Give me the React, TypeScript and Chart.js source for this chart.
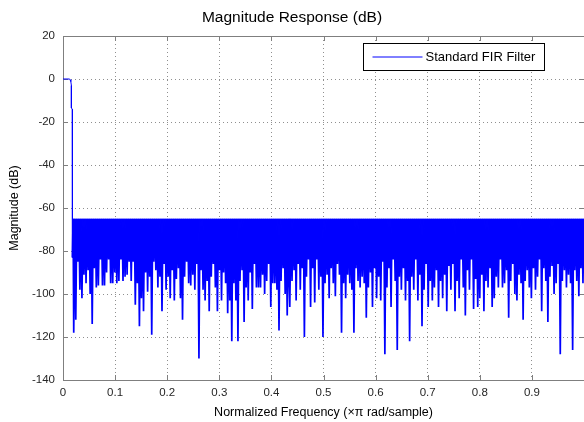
import React, { useEffect, useRef } from "react";
import { Chart, registerables } from "chart.js";

Chart.register(...registerables);

const TITLE = "Magnitude Response (dB)";
const X_LABEL = "Normalized Frequency (\u00d7\u03c0 rad/sample)";
const Y_LABEL = "Magnitude (dB)";
const SERIES_NAME = "Standard FIR Filter";

const X_GRID = [0, 0.1, 0.2, 0.3, 0.4, 0.5, 0.6, 0.7, 0.8, 0.9, 1];
const X_TICK_LABELS = ["0", "0.1", "0.2", "0.3", "0.4", "0.5", "0.6", "0.7", "0.8", "0.9", ""];
const Y_MIN = -140;
const Y_MAX = 20;
const Y_STEP = 20;

// passband and transition
const PASS_FREQ = [0, 0.012, 0.0135, 0.015, 0.0161, 0.0161, 0.0178, 0.0181];
const PASS_DB = [0, 0, -0.3, -1.2, -3, -13.5, -14, -83];

// stopband: equiripple peaks and the lobe minima
const STOP_PEAK_DB = -65;
const STOP_A_RANGE = [0.0206, 0.4343];
const STOP_A_DIPS = [
  -118, -112, -85, -98, -102, -91, -95, -89, -100, -114,
  -88, -97, -96, -84, -96, -96, -90, -84, -95, -95,
  -90, -95, -94, -84, -94, -92, -91, -85, -94, -85,
  -105, -95, -115, -102, -108, -90, -99, -92, -119, -85,
  -89, -97, -92, -108, -86, -98, -92, -102, -89, -103,
  -93, -88, -102, -112, -92, -85, -95, -96, -91, -98,
  -86, -130, -89, -98, -103, -94, -108, -92, -86, -97,
  -108, -89, -103, -90, -95, -109, -103, -122, -95, -103,
  -122, -94, -89, -113, -97, -103, -90, -107, -86, -97,
  -97, -97, -91, -100, -94, -86, -106, -95, -95, -98,
  -117, -94, -88, -100, -110, -97,
];
const STOP_B_RANGE = [0.4356, 0.998];
const STOP_B_DIPS = [
  -106, -94, -89, -103, -86, -98, -88, -120, -92, -84,
  -106, -88, -104, -84, -98, -92, -120, -95, -91, -102,
  -88, -95, -101, -86, -91, -118, -95, -102, -91, -95,
  -98, -118, -88, -94, -97, -92, -95, -111, -97, -90,
  -106, -88, -102, -92, -103, -85, -128, -97, -88, -106,
  -84, -94, -126, -92, -98, -88, -103, -94, -122, -92,
  -98, -84, -103, -91, -115, -98, -86, -106, -94, -103,
  -97, -89, -106, -94, -102, -91, -108, -87, -98, -86,
  -108, -94, -102, -84, -97, -110, -89, -98, -84, -107,
  -93, -106, -102, -91, -108, -94, -97, -88, -106, -102,
  -92, -97, -84, -97, -95, -89, -111, -94, -86, -100,
  -103, -91, -95, -112, -94, -89, -97, -102, -88, -98,
  -92, -84, -108, -88, -94, -113, -92, -87, -100, -95,
  -86, -128, -94, -89, -97, -91, -95, -126, -89, -94,
  -101, -88, -95,
];

const LINE_COLOR = "#0000ff";
const AXIS_COLOR = "#7f7f7f";
const GRID_COLOR = "#8f8f8f";
const TEXT_COLOR = "#262626";
const FAMILY = "'Liberation Sans', Arial, Helvetica, sans-serif";

function passPoints() {
  return PASS_FREQ.map((f, i) => ({ x: f, y: PASS_DB[i] }));
}

function stopPoints() {
  const lastF = PASS_FREQ[PASS_FREQ.length - 1];
  const pts: { x: number; y: number }[] = [{ x: lastF, y: PASS_DB[PASS_DB.length - 1] }];
  const dips: { x: number; y: number }[] = [];
  const segs: [number[], number[]][] = [
    [STOP_A_RANGE, STOP_A_DIPS],
    [STOP_B_RANGE, STOP_B_DIPS],
  ];
  segs.forEach(([r, d]) => {
    d.forEach((v, i) => dips.push({ x: r[0] + ((r[1] - r[0]) * i) / (d.length - 1), y: v }));
  });
  let prev = lastF;
  dips.forEach((d) => {
    pts.push({ x: (prev + d.x) / 2, y: STOP_PEAK_DB });
    pts.push(d);
    prev = d.x;
  });
  pts.push({ x: 1, y: STOP_PEAK_DB });
  return pts;
}

export default function App() {
  const ref = useRef<HTMLCanvasElement>(null);
  useEffect(() => {
    const sz = { title: 15.5, tick: 11.5, axis: 12.5, legend: 13 };

    const boxPlugin = {
      id: "matlabBox",
      beforeDatasetsDraw(chart: any) {
        const { ctx, chartArea } = chart;
        const { left, right, top, bottom } = chartArea;
        const xs = chart.scales.x;
        const ys = chart.scales.y;
        ctx.save();
        ctx.strokeStyle = AXIS_COLOR;
        ctx.lineWidth = 1;
        ctx.beginPath();
        ctx.moveTo(left + 0.5, top + 0.5);
        ctx.lineTo(right + 0.5, top + 0.5);
        ctx.moveTo(left + 0.5, top);
        ctx.lineTo(left + 0.5, bottom + 1);
        ctx.moveTo(left, bottom + 0.5);
        ctx.lineTo(right + 1, bottom + 0.5);
        ctx.moveTo(right + 0.5, top);
        ctx.lineTo(right + 0.5, bottom);
        const tl = 5;
        xs.ticks.forEach((t: any) => {
          const px = Math.round(xs.getPixelForValue(t.value)) + 0.5;
          ctx.moveTo(px, bottom);
          ctx.lineTo(px, bottom - tl);
          ctx.moveTo(px, top);
          ctx.lineTo(px, top + tl);
        });
        ys.ticks.forEach((t: any) => {
          const py = Math.round(ys.getPixelForValue(t.value)) + 0.5;
          ctx.moveTo(left, py);
          ctx.lineTo(left + tl, py);
          ctx.moveTo(right, py);
          ctx.lineTo(right - tl, py);
        });
        ctx.stroke();
        ctx.restore();
      },
    };

    const legendPlugin = {
      id: "insideLegend",
      afterDatasetsDraw(chart: any) {
        const { ctx, chartArea } = chart;
        const bx = Math.round(chartArea.right - 221) + 0.5;
        const by = Math.round(chartArea.top + 7) + 0.5;
        const bw = 181;
        const bh = 27;
        ctx.save();
        ctx.fillStyle = "#ffffff";
        ctx.fillRect(bx, by, bw, bh);
        ctx.strokeStyle = "#000000";
        ctx.lineWidth = 1;
        ctx.strokeRect(bx, by, bw, bh);
        const ly = Math.round(by + bh / 2);
        ctx.strokeStyle = LINE_COLOR;
        ctx.beginPath();
        ctx.moveTo(bx + 9, ly);
        ctx.lineTo(bx + 59, ly);
        ctx.stroke();
        ctx.fillStyle = "#000000";
        ctx.font = `${sz.legend}px ${FAMILY}`;
        ctx.textBaseline = "middle";
        ctx.textAlign = "left";
        ctx.fillText(SERIES_NAME, bx + 62, ly);
        ctx.restore();
      },
    };

    const tickFont = { family: FAMILY, size: sz.tick };
    const axisFont = { family: FAMILY, size: sz.axis };
    const titleTop = 18 - 0.6 * sz.title;
    const titleBottom = 36 - titleTop - 1.2 * sz.title;

    const chart = new Chart(ref.current!, {
      type: "line",
      data: {
        datasets: [
          {
            label: SERIES_NAME,
            data: passPoints(),
            borderColor: LINE_COLOR,
            borderWidth: 1,
            pointRadius: 0,
            tension: 0,
            fill: false,
          },
          {
            label: SERIES_NAME + " stopband",
            data: stopPoints(),
            borderColor: LINE_COLOR,
            backgroundColor: LINE_COLOR,
            borderWidth: 1.7,
            pointRadius: 0,
            tension: 0,
            fill: { value: STOP_PEAK_DB },
          },
        ],
      },
      options: {
        animation: false,
        responsive: false,
        devicePixelRatio: 1,
        layout: { padding: 0 },
        plugins: {
          legend: { display: false },
          tooltip: { enabled: false },
          title: {
            display: true,
            text: TITLE,
            color: "#000",
            font: { family: FAMILY, size: sz.title, weight: "normal" },
            padding: { top: titleTop, bottom: titleBottom },
          },
        },
        scales: {
          x: {
            type: "linear",
            min: 0,
            max: 1,
            afterBuildTicks: (s: any) => {
              s.ticks = X_GRID.map((v) => ({ value: v }));
            },
            afterFit: (s: any) => {
              s.height = 42;
              s.paddingRight = 0;
              s.paddingLeft = 0;
            },
            ticks: {
              autoSkip: false,
              maxRotation: 0,
              padding: 6,
              color: TEXT_COLOR,
              font: tickFont,
              callback: (_v: any, i: number) => X_TICK_LABELS[i],
            },
            grid: { color: GRID_COLOR, drawTicks: false },
            border: { display: false, dash: [1, 3] },
            title: { display: true, text: X_LABEL, color: "#000", font: axisFont, padding: { top: 0, bottom: 2 } },
          },
          y: {
            type: "linear",
            min: Y_MIN,
            max: Y_MAX,
            afterFit: (s: any) => {
              s.width = 63;
            },
            ticks: { stepSize: Y_STEP, padding: 8, color: TEXT_COLOR, font: tickFont },
            grid: { color: GRID_COLOR, drawTicks: false },
            border: { display: false, dash: [1, 3] },
            title: { display: true, text: Y_LABEL, color: "#000", font: axisFont, padding: { top: 7, bottom: 0 } },
          },
        },
      } as any,
      plugins: [boxPlugin, legendPlugin],
    });
    return () => chart.destroy();
  }, []);

  return (
    <div style={{ position: "fixed", left: 0, top: 0, width: 584, height: 422, overflow: "hidden", background: "#fff" }}>
      <canvas ref={ref} width={584} height={422} style={{ display: "block" }} />
    </div>
  );
}
